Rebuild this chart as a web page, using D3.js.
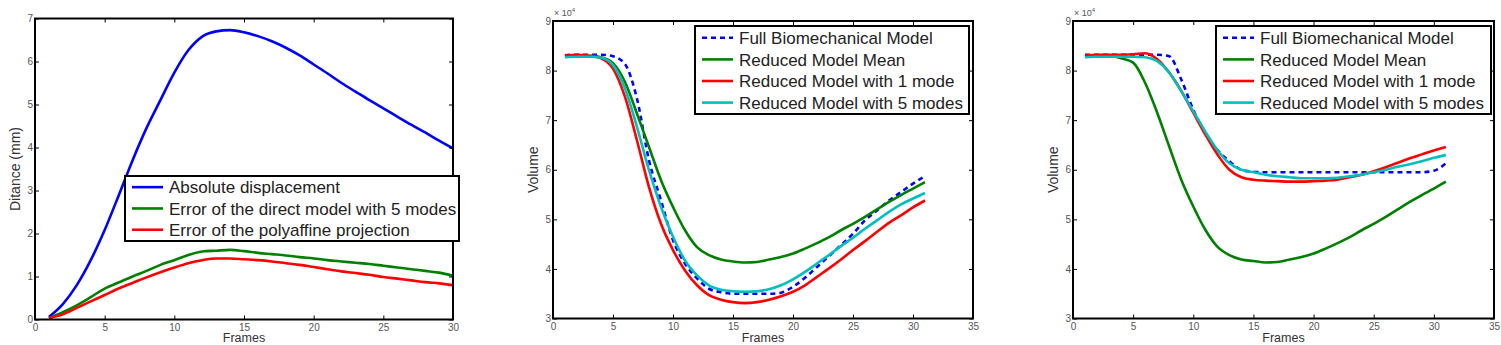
<!DOCTYPE html>
<html><head><meta charset="utf-8">
<script src="https://cdn.jsdelivr.net/npm/d3@7"></script>
<style>
body{margin:0;background:#fff;}
svg{display:block;font-family:"Liberation Sans",Arial,sans-serif;}
</style></head><body>
<svg id="chart" width="1501" height="345"></svg>
<script>
// ---------- data ----------
const frames30 = d3.range(1, 31);
const frames31 = d3.range(1, 32);

const p1Absolute = [0.06,0.36,0.80,1.38,2.08,2.88,3.70,4.45,5.10,5.74,6.26,6.58,6.70,6.73,6.68,6.59,6.47,6.32,6.14,5.93,5.72,5.50,5.30,5.10,4.91,4.72,4.53,4.35,4.16,3.98];
const p1Direct = [0.03,0.17,0.33,0.52,0.72,0.86,1.00,1.13,1.27,1.38,1.50,1.58,1.60,1.62,1.59,1.55,1.52,1.49,1.45,1.42,1.38,1.35,1.32,1.29,1.25,1.21,1.17,1.13,1.09,1.02];
const p1Poly = [0.03,0.12,0.27,0.42,0.57,0.72,0.85,0.98,1.10,1.21,1.31,1.38,1.42,1.42,1.40,1.38,1.35,1.31,1.27,1.22,1.17,1.12,1.08,1.04,0.99,0.95,0.91,0.87,0.84,0.80];

const p2Full = [8.31,8.32,8.32,8.32,8.29,8.13,7.43,6.19,5.38,4.58,4.11,3.81,3.60,3.53,3.50,3.50,3.50,3.50,3.52,3.64,3.82,4.04,4.26,4.48,4.71,4.98,5.18,5.38,5.55,5.72,5.87];
const p2Mean = [8.29,8.31,8.30,8.27,8.15,7.77,7.13,6.46,5.79,5.25,4.78,4.44,4.28,4.19,4.15,4.13,4.14,4.19,4.24,4.31,4.41,4.52,4.64,4.78,4.91,5.05,5.20,5.35,5.49,5.62,5.75];
const p2One = [8.30,8.32,8.30,8.25,8.04,7.47,6.59,5.65,4.91,4.38,3.97,3.67,3.47,3.38,3.33,3.31,3.33,3.38,3.45,3.54,3.67,3.84,4.01,4.19,4.38,4.56,4.75,4.93,5.08,5.24,5.38];
const p2Five = [8.27,8.28,8.28,8.26,8.11,7.64,6.86,5.99,5.25,4.65,4.17,3.87,3.67,3.58,3.55,3.54,3.55,3.59,3.67,3.79,3.94,4.11,4.28,4.46,4.63,4.81,4.98,5.15,5.30,5.42,5.53];

const p3Full = [8.32,8.32,8.32,8.32,8.32,8.32,8.32,8.29,7.82,7.21,6.74,6.40,6.17,6.00,5.96,5.95,5.95,5.95,5.95,5.95,5.95,5.95,5.95,5.95,5.95,5.95,5.95,5.95,5.95,5.98,6.13];
const p3Mean = [8.29,8.31,8.30,8.25,8.16,7.75,7.15,6.47,5.80,5.26,4.79,4.45,4.28,4.19,4.16,4.13,4.14,4.19,4.24,4.31,4.41,4.52,4.64,4.78,4.91,5.05,5.20,5.35,5.49,5.62,5.76];
const p3One = [8.30,8.32,8.32,8.32,8.33,8.35,8.23,7.96,7.59,7.15,6.71,6.31,6.00,5.85,5.80,5.78,5.77,5.76,5.76,5.77,5.78,5.80,5.85,5.90,5.97,6.05,6.14,6.23,6.31,6.39,6.46];
const p3Five = [8.27,8.28,8.28,8.28,8.28,8.27,8.19,7.96,7.58,7.18,6.77,6.40,6.13,6.00,5.95,5.90,5.87,5.85,5.83,5.83,5.83,5.84,5.87,5.90,5.95,6.00,6.06,6.11,6.17,6.24,6.30];

const p1XTicks = [0,5,10,15,20,25,30];
const p1YTicks = [0,1,2,3,4,5,6,7];
const volXTicks = [0,5,10,15,20,25,30,35];
const volYTicks = [3,4,5,6,7,8,9];

const p1Labels = ["Absolute displacement","Error of the direct model with 5 modes","Error of the polyaffine projection"];
const volLabels = ["Full Biomechanical Model","Reduced Model Mean","Reduced Model with 1 mode","Reduced Model with 5 modes"];

const BLUE="#0000ff", GREEN="#008000", RED="#ff0000", CYAN="#00bfbf";

// ---------- drawing ----------
const svg = d3.select("#chart");

function panel(cfg){
  const g = svg.append("g");
  const x = d3.scaleLinear().domain(cfg.xDomain).range([cfg.left, cfg.right]);
  const y = d3.scaleLinear().domain(cfg.yDomain).range([cfg.bottom, cfg.top]);
  const tl = 4;
  const line = d3.line().x(d=>x(d[0])).y(d=>y(d[1])).curve(d3.curveMonotoneX);
  cfg.series.forEach(s=>{
    g.append("path").datum(s.x.map((f,i)=>[f,s.v[i]]))
      .attr("d",line).attr("fill","none").attr("stroke",s.color)
      .attr("stroke-width",2.6).attr("stroke-linejoin","round")
      .attr("stroke-dasharray",s.dash?"5,4":null);
  });
  const fmt = d3.format("d");
  const bottom = g.append("g").attr("transform",`translate(0,${cfg.bottom})`)
    .call(d3.axisBottom(x).tickValues(cfg.xTicks).tickSize(-tl).tickPadding(4).tickFormat(fmt));
  const top = g.append("g").attr("transform",`translate(0,${cfg.top})`)
    .call(d3.axisTop(x).tickValues(cfg.xTicks).tickSize(-tl).tickFormat(""));
  const left = g.append("g").attr("transform",`translate(${cfg.left},0)`)
    .call(d3.axisLeft(y).tickValues(cfg.yTicks).tickSize(-tl).tickPadding(2).tickFormat(fmt));
  const right = g.append("g").attr("transform",`translate(${cfg.right},0)`)
    .call(d3.axisRight(y).tickValues(cfg.yTicks).tickSize(-tl).tickFormat(""));
  [bottom,top,left,right].forEach(a=>{
    a.select(".domain").remove();
    a.selectAll(".tick line").attr("stroke","#000").attr("stroke-width",1);
    a.selectAll(".tick text").attr("font-size",10).attr("fill","#555")
      .attr("font-family","'Liberation Sans',Arial,sans-serif");
  });
  g.append("rect").attr("x",cfg.left).attr("y",cfg.top)
    .attr("width",cfg.right-cfg.left).attr("height",cfg.bottom-cfg.top)
    .attr("fill","none").attr("stroke","#000").attr("stroke-width",2);
  g.append("text").attr("x",(cfg.left+cfg.right)/2).attr("y",342)
    .attr("text-anchor","middle").attr("font-size",12.5).attr("fill","#333").text("Frames");
  g.append("text").attr("transform",`translate(${cfg.yLabelX},${(cfg.top+cfg.bottom)/2}) rotate(-90)`)
    .attr("text-anchor","middle").attr("font-size",14).attr("fill","#333").text(cfg.yLabel);
  if(cfg.exponent){
    const t = g.append("text").attr("x",cfg.left+1).attr("y",cfg.top-5)
      .attr("font-size",9).attr("fill","#555");
    t.append("tspan").text("× 10");
    t.append("tspan").attr("dy",-4).attr("font-size",6).text("4");
  }
  const L = cfg.legend;
  g.append("rect").attr("x",L.x).attr("y",L.y).attr("width",L.w).attr("height",L.h)
    .attr("fill","#fff").attr("stroke","#000").attr("stroke-width",2);
  cfg.series.forEach((s,i)=>{
    const yy = L.y + L.pad + L.row*(i+0.5);
    g.append("line").attr("x1",L.x+7).attr("x2",L.x+38).attr("y1",yy).attr("y2",yy)
      .attr("stroke",s.color).attr("stroke-width",2.6).attr("stroke-dasharray",s.dash?"5,4":null);
    g.append("text").attr("x",L.x+44).attr("y",yy).attr("dy","0.36em")
      .attr("font-size",L.fs).attr("fill","#222").text(s.label);
  });
}

panel({
  left:35,right:453,top:18.5,bottom:319.5,
  xDomain:[0,30],yDomain:[0,7],xTicks:p1XTicks,yTicks:p1YTicks,
  yLabel:"Ditance (mm)",yLabelX:20,
  series:[
    {x:frames30,v:p1Absolute,color:BLUE,label:p1Labels[0]},
    {x:frames30,v:p1Direct,color:GREEN,label:p1Labels[1]},
    {x:frames30,v:p1Poly,color:RED,label:p1Labels[2]}
  ],
  legend:{x:125,y:176,w:334,h:65,pad:0.5,row:21.3,fs:17}
});

panel({
  left:553,right:973,top:21,bottom:318.5,
  xDomain:[0,35],yDomain:[3,9],xTicks:volXTicks,yTicks:volYTicks,
  yLabel:"Volume",yLabelX:538,exponent:true,
  series:[
    {x:frames31,v:p2Full,color:BLUE,dash:true,label:volLabels[0]},
    {x:frames31,v:p2Mean,color:GREEN,label:volLabels[1]},
    {x:frames31,v:p2One,color:RED,label:volLabels[2]},
    {x:frames31,v:p2Five,color:CYAN,label:volLabels[3]}
  ],
  legend:{x:695,y:26,w:274,h:88,pad:1,row:21.6,fs:17}
});

panel({
  left:1073,right:1494,top:21,bottom:318.5,
  xDomain:[0,35],yDomain:[3,9],xTicks:volXTicks,yTicks:volYTicks,
  yLabel:"Volume",yLabelX:1058,exponent:true,
  series:[
    {x:frames31,v:p3Full,color:BLUE,dash:true,label:volLabels[0]},
    {x:frames31,v:p3Mean,color:GREEN,label:volLabels[1]},
    {x:frames31,v:p3One,color:RED,label:volLabels[2]},
    {x:frames31,v:p3Five,color:CYAN,label:volLabels[3]}
  ],
  legend:{x:1216,y:26,w:275,h:88,pad:1,row:21.6,fs:17}
});
</script></body></html>
